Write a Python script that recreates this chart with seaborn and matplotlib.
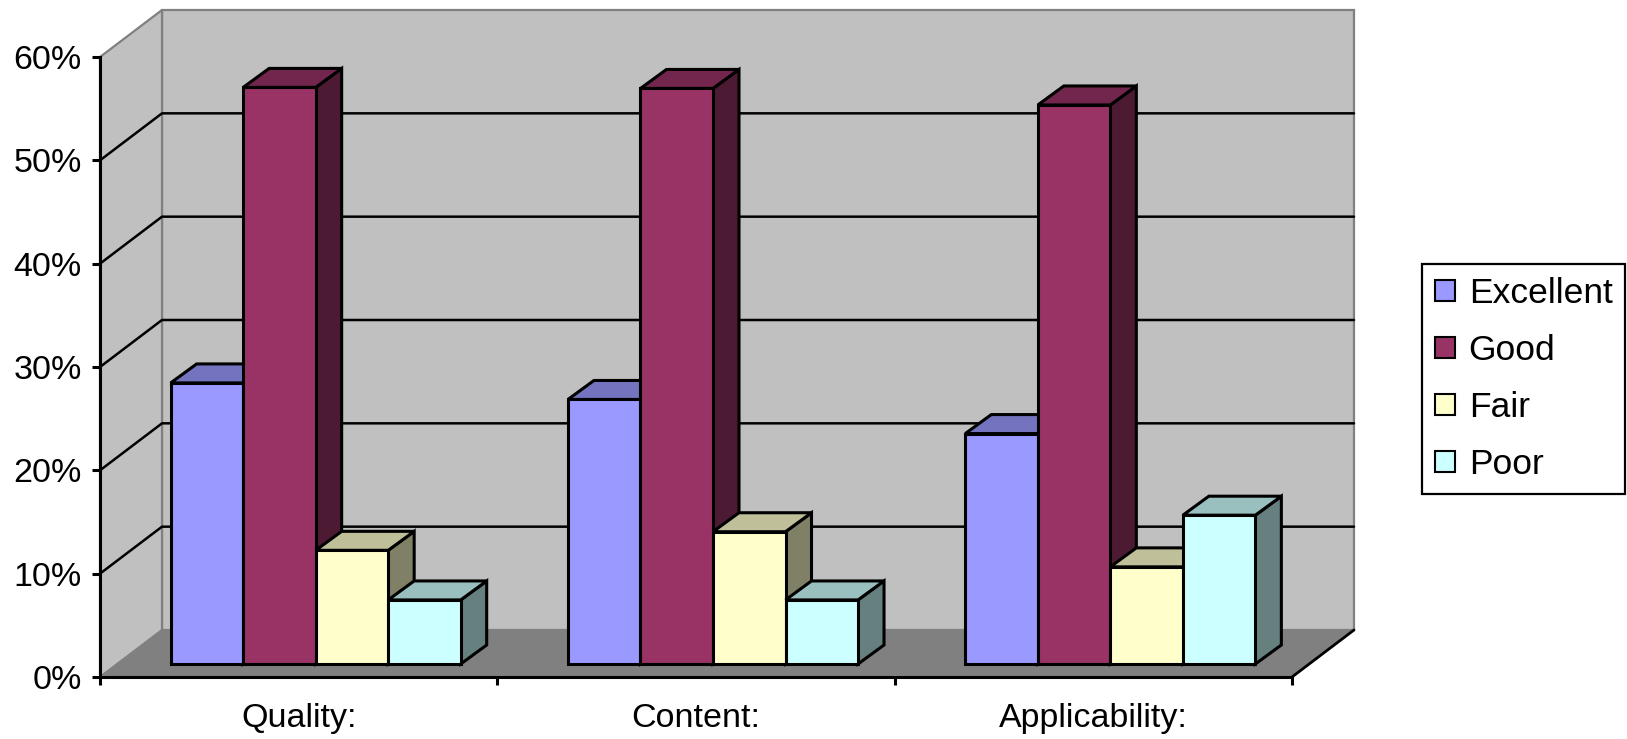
#!/usr/bin/env python3
import pandas as pd
import seaborn as sns
import matplotlib.pyplot as plt
from matplotlib.patches import Polygon, Patch
from matplotlib.colors import to_rgb

aspects = ['Quality:', 'Content:', 'Applicability:']
ratings = ['Excellent', 'Good', 'Fair', 'Poor']
excellent = [27.2, 25.6, 22.3]
good = [55.8, 55.7, 54.1]
fair = [11.0, 12.8, 9.4]
poor = [6.2, 6.2, 14.4]
yticks = [0, 10, 20, 30, 40, 50, 60]
colors = ['#9999FF', '#993366', '#FFFFCC', '#CCFFFF']

df = pd.DataFrame({
    'aspect': aspects * 4,
    'rating': [r for r in ratings for _ in aspects],
    'pct': excellent + good + fair + poor,
})

sns.set_theme(style='white')
plt.rcParams['font.family'] = ['Liberation Sans', 'DejaVu Sans']
plt.rcParams['text.color'] = 'black'
plt.rcParams['xtick.color'] = 'black'
plt.rcParams['ytick.color'] = 'black'

W, H = 1627, 739
fig = plt.figure(figsize=(W / 100, H / 100), dpi=100)
ax = fig.add_axes([100 / W, 1 - 677 / H, 1192 / W, 620 / H])
ax.set_facecolor('none')

sns.barplot(data=df, x='aspect', y='pct', hue='rating', hue_order=ratings, order=aspects,
            palette=colors, saturation=1, width=0.73, edgecolor='black', linewidth=2.2,
            legend=False, ax=ax, zorder=3)
bars = sorted(ax.patches, key=lambda p: p.get_x())

ax.set_xlim(-0.5, 2.5)
ax.set_ylim(0, 60)

# pixel -> data conversion for the fake depth
px_x = 1192 / 3
px_y = 620 / 60
wall_dx, wall_dy = 62 / px_x, 47 / px_y
plane_dx, plane_dy = 17 / px_x, 13 / px_y
bar_dx, bar_dy = 26 / px_x, 19 / px_y

x0, x1 = -0.5, 2.5
edge_gray = '#808080'

#
# walls and floor

back = Polygon([(x0 + wall_dx, wall_dy), (x1 + wall_dx, wall_dy), (x1 + wall_dx, 60 + wall_dy),
                (x0 + wall_dx, 60 + wall_dy)], closed=True, fc='#C0C0C0', ec=edge_gray, lw=1.6,
               clip_on=False, zorder=0.5)
side = Polygon([(x0, 0), (x0 + wall_dx, wall_dy), (x0 + wall_dx, 60 + wall_dy), (x0, 60)],
               closed=True, fc='#C0C0C0', ec=edge_gray, lw=1.6, clip_on=False, zorder=0.5)
floor = Polygon([(x0, 0), (x1, 0), (x1 + wall_dx, wall_dy), (x0 + wall_dx, wall_dy)],
                closed=True, fc='#808080', ec='none', clip_on=False, zorder=0.6)
for p in (back, side, floor):
    ax.add_patch(p)
ax.plot([x1, x1 + wall_dx], [0, wall_dy], color='black', lw=2.0, clip_on=False, zorder=0.7)

for v in yticks[1:-1]:
    ax.plot([x0, x0 + wall_dx, x1 + wall_dx], [v, v + wall_dy, v + wall_dy],
            color='black', lw=1.8, clip_on=False, zorder=0.8)

#
# bars: move into their depth plane, add top and side faces

for i, p in enumerate(bars):
    p.set_x(p.get_x() + plane_dx)
    p.set_y(plane_dy)
    bx0, bw, h = p.get_x(), p.get_width(), p.get_height()
    bx1 = bx0 + bw
    ytop = plane_dy + h
    base = to_rgb(p.get_facecolor())
    z = 3 + i * 0.01
    top_c = tuple(c * 0.75 for c in base)
    side_c = tuple(c * 0.5 for c in base)
    ax.add_patch(Polygon([(bx1, plane_dy), (bx1 + bar_dx, plane_dy + bar_dy),
                          (bx1 + bar_dx, ytop + bar_dy), (bx1, ytop)], closed=True,
                         fc=side_c, ec='black', lw=2.2, joinstyle='miter', clip_on=False, zorder=z))
    ax.add_patch(Polygon([(bx0, ytop), (bx1, ytop), (bx1 + bar_dx, ytop + bar_dy),
                          (bx0 + bar_dx, ytop + bar_dy)], closed=True,
                         fc=top_c, ec='black', lw=2.2, joinstyle='miter', clip_on=False, zorder=z))
    p.set_zorder(z + 0.005)
    p.set_joinstyle('miter')
    p.set_clip_on(False)

#
# axes

for s in ('top', 'right'):
    ax.spines[s].set_visible(False)
for s in ('left', 'bottom'):
    ax.spines[s].set_color('black')
    ax.spines[s].set_linewidth(2.2)
    ax.spines[s].set_zorder(2)

ax.set_yticks(yticks)
ax.set_yticklabels([f'{v}%' for v in yticks])
ax.tick_params(axis='y', which='major', direction='out', length=6, width=2.2, color='black',
               labelsize=24.5, pad=7, left=True)
ax.set_xticks([0, 1, 2])
ax.set_xticklabels(aspects)
ax.set_xticks([-0.5, 0.5, 1.5, 2.5], minor=True)
ax.tick_params(axis='x', which='major', length=0, labelsize=24.5, pad=19)
ax.tick_params(axis='x', which='minor', direction='out', length=6, width=2.2, color='black', bottom=True)
ax.set(xlabel=None, ylabel=None)

handles = [Patch(facecolor=c, edgecolor='black', linewidth=1.5) for c in colors]
leg = fig.legend(handles, ratings, loc='center left', bbox_to_anchor=(1422 / W, 1 - 379 / H),
                 fontsize=25.5, frameon=True, fancybox=False, edgecolor='black', framealpha=1,
                 handlelength=0.56, handleheight=0.56, handletextpad=0.4, labelspacing=0.68,
                 borderpad=0.36, borderaxespad=0)
leg.get_frame().set_linewidth(1.6)

fig.savefig('out.png', dpi=100, facecolor='white')
